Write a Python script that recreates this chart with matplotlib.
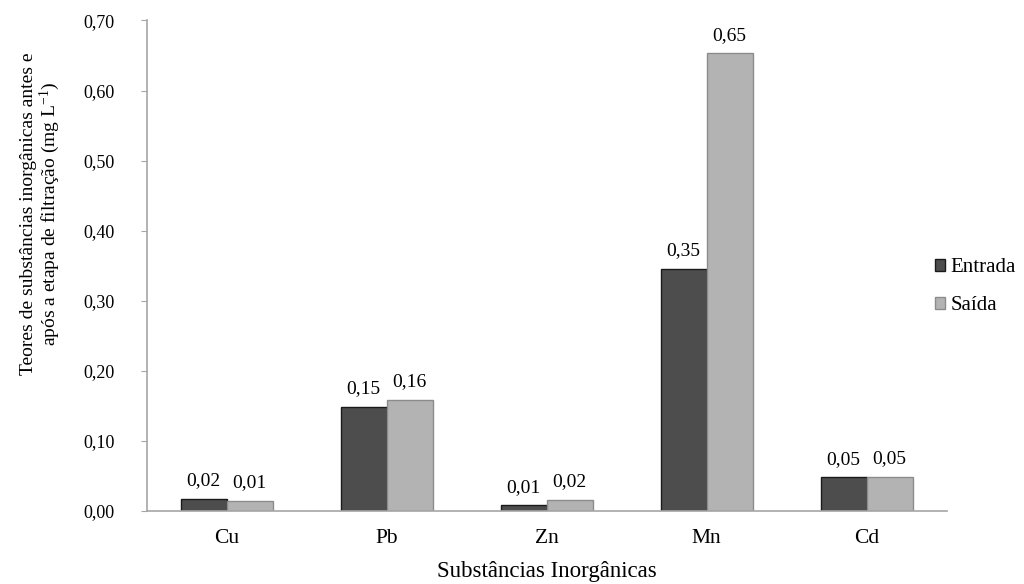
import numpy as np
import matplotlib
matplotlib.use("Agg")
import matplotlib.pyplot as plt

plt.rcParams['font.family'] = ['Liberation Serif', 'DejaVu Serif']
plt.rcParams['mathtext.fontset'] = 'custom'
plt.rcParams['mathtext.rm'] = 'Liberation Serif'
plt.rcParams['mathtext.it'] = 'Liberation Serif:italic'

# inorganic substance levels (mg/L) before and after filtration
substancias = ['Cu', 'Pb', 'Zn', 'Mn', 'Cd']
entrada = [0.017, 0.149, 0.008, 0.346, 0.048]
saida = [0.0145, 0.159, 0.016, 0.653, 0.049]
yticks = [0.0, 0.1, 0.2, 0.3, 0.4, 0.5, 0.6, 0.7]


def virgula(v, casas=2):
    """format number with comma as decimal separator"""
    return "{:.{}f}".format(v, casas).replace('.', ',')


fig = plt.figure(figsize=(10.24, 5.84), dpi=100)
ax = fig.add_axes([0.1433, 0.125, 0.7812, 0.84])

x = np.arange(len(substancias))
w = 0.2875
b1 = ax.bar(x - w/2, entrada, w, color='#4d4d4d', edgecolor='#1a1a1a',
            linewidth=1, label='Entrada')
b2 = ax.bar(x + w/2, saida, w, color='#b3b3b3', edgecolor='#8c8c8c',
            linewidth=1, label='Saída')

for bars, vals in ((b1, entrada), (b2, saida)):
    for r, v in zip(bars, vals):
        ax.annotate(virgula(v), (r.get_x() + r.get_width()/2, v),
                    xytext=(0, 7), textcoords='offset points',
                    ha='center', va='bottom', fontsize=14)

ax.set_xlim(-0.5, len(substancias) - 0.5)
ax.set_ylim(0, 0.70)
ax.set_yticks(yticks)
ax.set_yticklabels([virgula(t) for t in yticks], fontsize=13)
ax.set_xticks(x)
ax.set_xticklabels(substancias, fontsize=15.5)
ax.tick_params(axis='y', length=4, color='#a6a6a6', pad=19)
ax.tick_params(axis='x', length=0, pad=13)

for s in ('top', 'right'):
    ax.spines[s].set_visible(False)
for s in ('left', 'bottom'):
    ax.spines[s].set_color('#a6a6a6')
    ax.spines[s].set_linewidth(1.2)

ax.set_xlabel('Substâncias Inorgânicas', fontsize=16.5)
ax.xaxis.set_label_coords(0.5, -0.102)
ax.set_ylabel('Teores de substâncias inorgânicas antes e\n'
              'após a etapa de filtração (mg L$^{\\mathregular{-1}}$)',
              fontsize=14, linespacing=1.05)
ax.yaxis.set_label_coords(-0.106, 0.605)

leg = ax.legend(loc='center left', bbox_to_anchor=(0.985, 0.457), frameon=False,
                fontsize=15, handlelength=0.5, handleheight=0.5,
                handletextpad=0.25, labelspacing=0.9, borderaxespad=0,
                borderpad=0)

fig.savefig('out.png', dpi=100)
